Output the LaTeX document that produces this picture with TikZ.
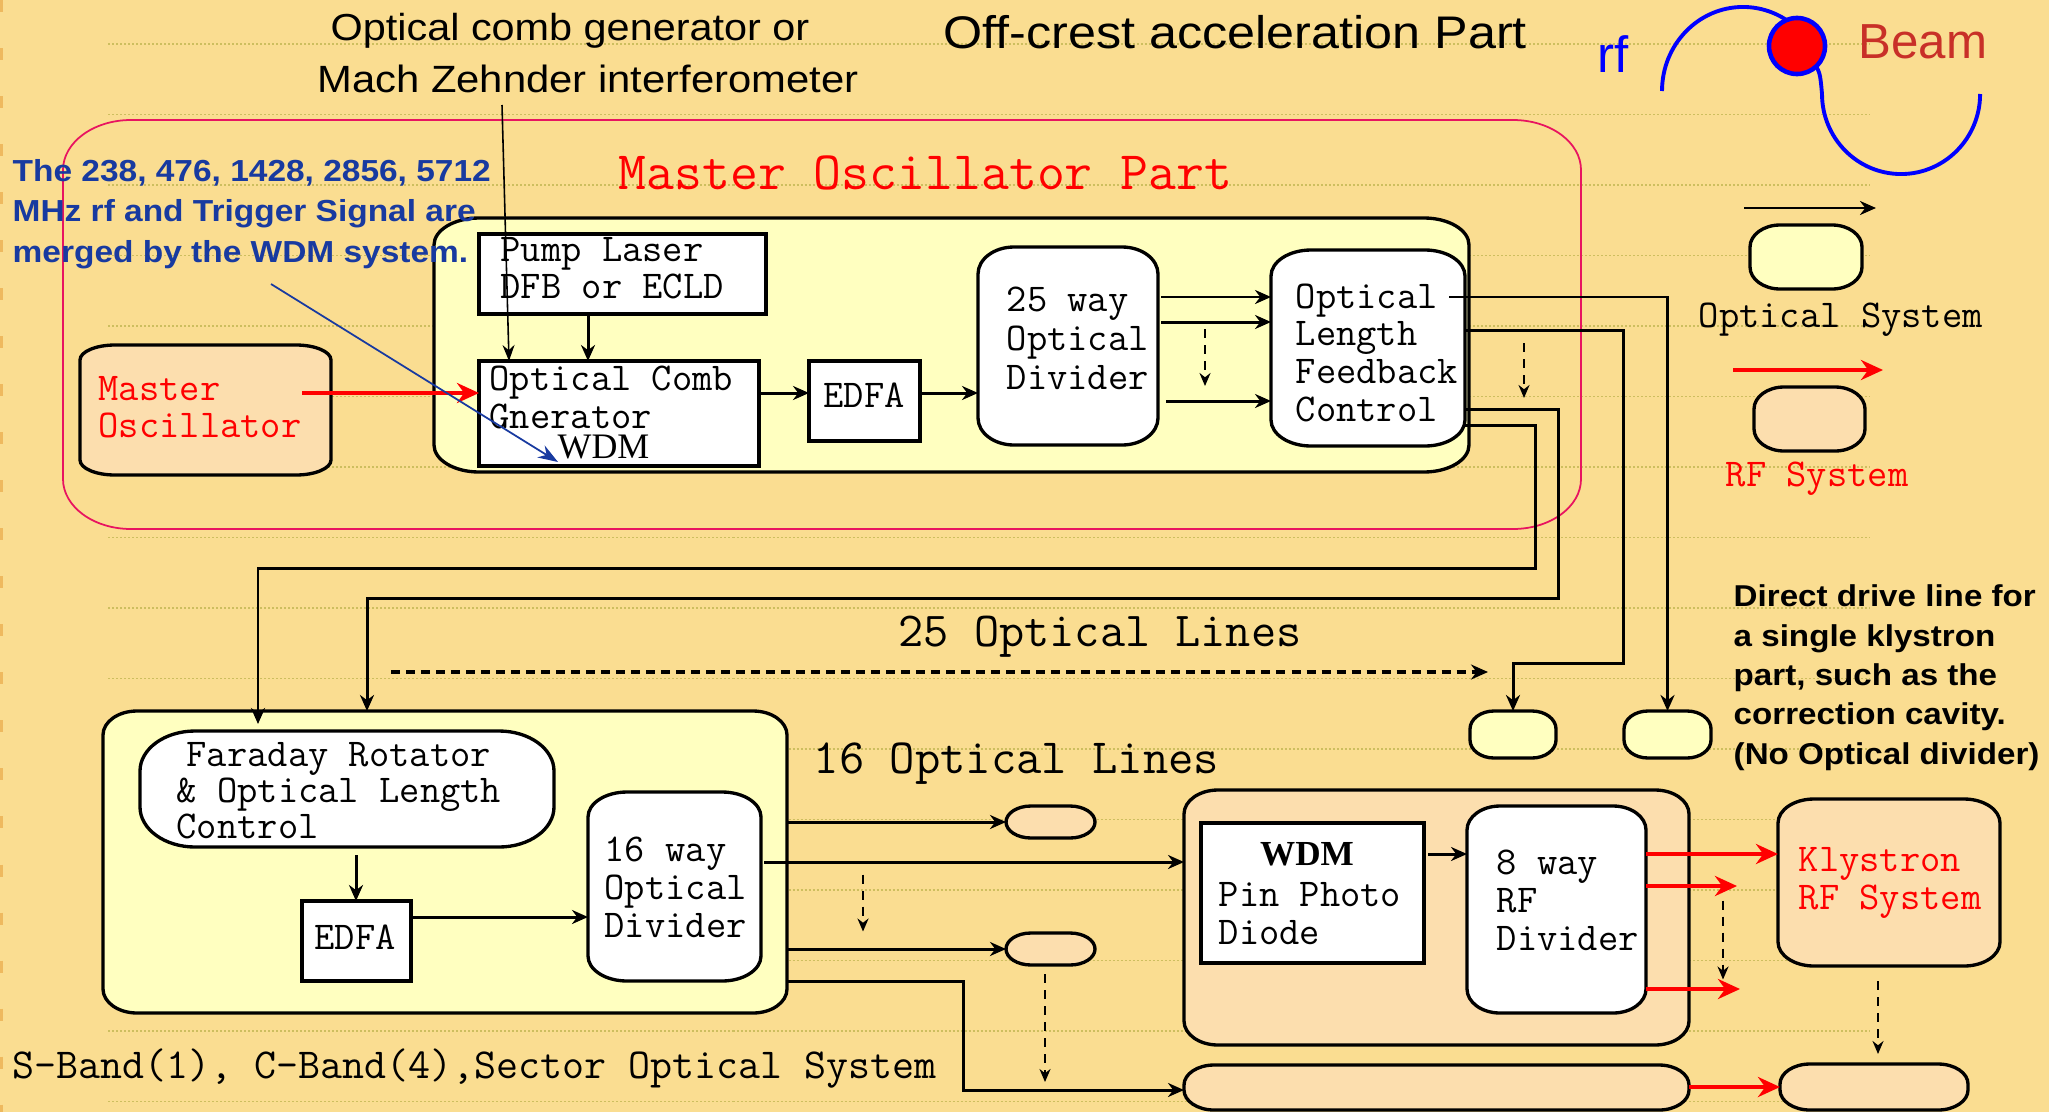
\documentclass[tikz,border=0pt]{standalone}
\usepackage{fontspec}
\newfontfamily\asans[FakeStretch=1.1]{Liberation Sans}
\newfontfamily\asansn{Liberation Sans}
\newfontfamily\tserif{Liberation Serif}
\usetikzlibrary{calc,fit,arrows.meta}
\pgfdeclarelayer{bg}
\pgfdeclarelayer{shp}
\pgfsetlayers{bg,shp,main}
\definecolor{bgc}{RGB}{250,221,145}
\definecolor{yel}{RGB}{255,255,192}
\definecolor{pch}{RGB}{252,222,174}
\definecolor{mopc}{RGB}{232,20,96}
\definecolor{dotc}{RGB}{205,190,95}
\definecolor{bluetxt}{RGB}{24,58,160}
\definecolor{beamc}{RGB}{200,48,40}
\definecolor{edgec}{RGB}{238,185,95}
\newcommand\myrbox[4]{%
  \path[#4] ($(#1.north west)+(#2,0)$) -- ($(#1.north east)+(-#2,0)$)
   arc[start angle=90,end angle=0,x radius={#2*0.01cm},y radius={#3*0.01cm}]
   -- ($(#1.south east)+(0,-#3)$)
   arc[start angle=0,end angle=-90,x radius={#2*0.01cm},y radius={#3*0.01cm}]
   -- ($(#1.south west)+(#2,0)$)
   arc[start angle=270,end angle=180,x radius={#2*0.01cm},y radius={#3*0.01cm}]
   -- ($(#1.north west)+(0,#3)$)
   arc[start angle=180,end angle=90,x radius={#2*0.01cm},y radius={#3*0.01cm}]
   -- cycle;}
\newcommand\myrect[2]{\path[#2] (#1.north west) rectangle (#1.south east);}
\begin{document}
\begin{tikzpicture}[x=0.01cm,y=-0.01cm,
  area/.style={inner sep=0pt,outer sep=0pt,draw=none,fit={#1}},
  bx/.style={draw=black,line width=0.95pt},
  mt/.style={font=\ttfamily\fontsize{11.2}{10.8}\selectfont,anchor=base west,inner sep=0pt,align=left},
  conn/.style={line width=0.85pt,-{Stealth[length=0.16cm,width=0.14cm]}},
  rarr/.style={red,line width=1.1pt,-{Stealth[length=0.22cm,width=0.2cm]}},
  dsh/.style={line width=0.55pt,dash pattern=on 0.09cm off 0.07cm,-{Stealth[length=0.13cm,width=0.11cm]}},
  thinarr/.style={line width=0.45pt,-{Stealth[length=0.16cm,width=0.12cm]}}]
\useasboundingbox (0,0) rectangle (2049,1112);
\begin{pgfonlayer}{bg}
  \fill[bgc] (0,0) rectangle (2049,1112);
  \foreach \k in {0,...,15}
    \draw[dotc,line width=0.45pt,dash pattern=on 0.02cm off 0.02cm] (108,44+70.5*\k) -- (1870,44+70.5*\k);
  \draw[edgec,line width=1.2pt,dash pattern=on 0.12cm off 0.36cm] (1,0) -- (1,1112);
\end{pgfonlayer}

% ---------- node areas ----------
\node[area={(63,120) (1581,529)}] (mop) {};
\node[area={(434,218) (1469,472)}] (optu) {};
\node[area={(479,234) (766,314)}] (pump) {};
\node[area={(479,361) (759,466)}] (ocg) {};
\node[area={(809,361) (920,441)}] (edfa1) {};
\node[area={(978,247) (1158,445)}] (div25) {};
\node[area={(1271,250) (1465,446)}] (olfc) {};
\node[area={(80,345) (331,475)}] (mo) {};
\node[area={(1750,225) (1862,289)}] (legy) {};
\node[area={(1754,387) (1865,451)}] (legp) {};
\node[area={(1470,711) (1556,758)}] (smA) {};
\node[area={(1624,711) (1711,758)}] (smB) {};
\node[area={(103,711) (787,1013)}] (sect) {};
\node[area={(140,731) (554,847)}] (fara) {};
\node[area={(302,901) (411,981)}] (edfa2) {};
\node[area={(588,792) (761,981)}] (div16) {};
\node[area={(1006,806) (1095,838)}] (pk1) {};
\node[area={(1006,933) (1095,965)}] (pk2) {};
\node[area={(1184,790) (1689,1045)}] (pinc) {};
\node[area={(1201,823) (1424,963)}] (wdm) {};
\node[area={(1467,806) (1646,1013)}] (div8) {};
\node[area={(1778,799) (2000,966)}] (kly) {};
\node[area={(1184,1065) (1689,1110)}] (bar) {};
\node[area={(1780,1064) (1968,1110)}] (brb) {};

\begin{pgfonlayer}{shp}
  \myrbox{mop}{68}{50}{draw=mopc,line width=0.5pt}
  \myrbox{optu}{45}{27}{bx,fill=yel}
  \myrect{pump}{bx,fill=white}
  \myrect{ocg}{bx,fill=white}
  \myrect{edfa1}{bx,fill=white}
  \myrbox{div25}{36}{27}{bx,fill=white}
  \myrbox{olfc}{40}{26}{bx,fill=white}
  \myrbox{mo}{35}{15}{bx,fill=pch}
  \myrbox{legy}{30}{22}{bx,fill=yel}
  \myrbox{legp}{30}{22}{bx,fill=pch}
  \myrbox{smA}{24}{18}{bx,fill=yel}
  \myrbox{smB}{24}{18}{bx,fill=yel}
  \myrbox{sect}{34}{24}{bx,fill=yel}
  \myrbox{fara}{55}{40}{bx,fill=white}
  \myrect{edfa2}{bx,fill=white}
  \myrbox{div16}{39}{25}{bx,fill=white}
  \myrbox{pk1}{25}{16}{bx,fill=pch}
  \myrbox{pk2}{25}{16}{bx,fill=pch}
  \myrbox{pinc}{34}{24}{bx,fill=pch}
  \myrect{wdm}{bx,fill=white}
  \myrbox{div8}{33}{24}{bx,fill=white}
  \myrbox{kly}{36}{24}{bx,fill=pch}
  \myrbox{bar}{30}{20}{bx,fill=pch}
  \myrbox{brb}{30}{20}{bx,fill=pch}
\end{pgfonlayer}

% ---------- texts (multi-line nodes: anchor at the last line's baseline) ----------
\node[anchor=base,inner sep=0pt,font=\asans\fontsize{10.7}{12}\selectfont] (an1) at (570,40) {Optical comb generator or};
\node[anchor=base,inner sep=0pt,font=\asans\fontsize{10.8}{12}\selectfont] (an2) at (588,92) {Mach Zehnder interferometer};
\node[anchor=base west,inner sep=0pt,font=\asans\fontsize{13}{15}\selectfont] (title) at (943,48) {Off-crest acceleration Part};
\node[anchor=base west,inner sep=0pt,font=\asansn\fontsize{14.5}{16}\selectfont,text=blue] (rfT) at (1597,72) {rf};
\node[anchor=base west,inner sep=0pt,font=\asansn\fontsize{14}{16}\selectfont,text=beamc] (beamT) at (1858,58) {Beam};
\node[anchor=base west,inner sep=0pt,align=left,font=\asans\bfseries\fontsize{8.65}{11.38}\selectfont,text=bluetxt] (blueT) at (12,262)
  {The 238, 476, 1428, 2856, 5712\\MHz rf and Trigger Signal are\\merged by the WDM system.};
\node[anchor=base west,inner sep=0pt,align=left,font=\asans\bfseries\fontsize{8.57}{11.17}\selectfont] (directT) at (1733,764)
  {Direct drive line for\\a single klystron\\part, such as the\\correction cavity.\\(No Optical divider)};

\node[mt,font=\ttfamily\fontsize{15.4}{16}\selectfont,text=red] (mopT) at (618,189) {Master Oscillator Part};
\node[mt,font=\ttfamily\fontsize{11.2}{9.1}\selectfont] (pumpT) at (500,298) {Pump Laser\\DFB or ECLD};
\node[mt] (ocgT) at (489,428) {Optical Comb\\Gnerator};
\node[anchor=base west,inner sep=0pt,font=\tserif\fontsize{10.2}{12}\selectfont] (ocgW) at (557,458) {WDM};
\node[mt,text=red,font=\ttfamily\fontsize{11.2}{10.5}\selectfont] (moT) at (98,437) {Master\\Oscillator};
\node[mt,anchor=base] (edfa1T) at (864,407) {EDFA};
\node[mt,font=\ttfamily\fontsize{11.2}{10.95}\selectfont] (div25T) at (1006,389) {25 way\\Optical\\Divider};
\node[mt,font=\ttfamily\fontsize{11.2}{10.7}\selectfont] (olfcT) at (1295,421) {Optical\\Length\\Feedback\\Control};
\node[mt] (legyT) at (1698,327) {Optical System};
\node[mt,text=red] (legpT) at (1725,486) {RF System};
\node[mt,font=\ttfamily\fontsize{11.2}{10.2}\selectfont] (faraT) at (176,838) {\hspace*{0.1cm}Faraday Rotator\\\& Optical Length\\Control};
\node[mt,anchor=base] (edfa2T) at (355,949) {EDFA};
\node[mt] (div16T) at (604,937) {16 way\\Optical\\Divider};
\node[mt,font=\ttfamily\fontsize{13.9}{16}\selectfont] (l25T) at (898,646) {25 Optical Lines};
\node[mt,font=\ttfamily\fontsize{14}{16}\selectfont] (l16T) at (813,773) {16 Optical Lines};
\node[mt,font=\ttfamily\fontsize{12.15}{14}\selectfont] (sbandT) at (12,1078) {S-Band(1), C-Band(4),Sector Optical System};
\node[anchor=base,inner sep=0pt,font=\tserif\bfseries\fontsize{10}{12}\selectfont] (wdmT) at (1307,865) {WDM};
\node[mt] (pinT) at (1218,944) {Pin Photo\\Diode};
\node[mt] (div8T) at (1496,950) {8 way\\RF\\Divider};
\node[mt,text=red] (klyT) at (1798,909) {Klystron\\RF System};

% ---------- beam symbol ----------
\draw[blue,line width=1.1pt] (1662,91) arc[start angle=180,end angle=48,x radius=0.81cm,y radius=0.84cm];
\draw[blue,line width=1.1pt] (1812,60) .. controls (1820,72) .. (1822,94)
   arc[start angle=180,end angle=360,x radius=0.79cm,y radius=0.80cm];
\node[circle,fill=red,draw=blue,line width=1.3pt,minimum size=0.56cm,inner sep=0pt] (beamdot) at (1797,46) {};

% ---------- helper coordinates ----------
\foreach \yy in {297,322,330,393,401,409,425,822,854,862,886,917,949,981,989,1087}
  \coordinate (c\yy) at (0,\yy);
\coordinate (a1) at (502,105);
\coordinate (b1) at (271,284);
\coordinate (mos) at (302,393);
\coordinate (k2) at (1623,663);
\coordinate (k3) at (1558,598);
\coordinate (k4) at (1535,568);
\coordinate (k5) at (963,1090);

% ---------- connectors ----------
\draw[thinarr] (a1) -- ($(ocg.north west)+(30,0)$);
\draw[conn] ($(pump.south west)+(109,0)$) -- ($(ocg.north west)+(109,0)$);
\draw[rarr] (mos) -- (mos -| ocg.west);
\draw[bluetxt,line width=0.5pt,-{Stealth[length=0.2cm,width=0.14cm]}] (b1) -- ($(ocg.south west)+(79,-4)$);
\draw[conn] (ocg.east |- c393) -- (edfa1.west |- c393);
\draw[conn] (edfa1.east |- c393) -- (div25.west |- c393);
\draw[conn] ($(div25.east |- c297)+(3,0)$) -- (olfc.west |- c297);
\draw[conn] ($(div25.east |- c322)+(3,0)$) -- (olfc.west |- c322);
\draw[conn] ($(div25.east |- c401)+(8,0)$) -- (olfc.west |- c401);
\draw[dsh] ($(div25.east)+(47,-17)$) -- ($(div25.east)+(47,40)$);
% olfc outputs
\draw[conn] ($(olfc.east |- c297)+(-16,0)$) -| (smB.north);
\draw[conn] (olfc.east |- c330) -| (k2) -| (smA.north);
\draw[conn] (olfc.east |- c409) -| (k3) -| ($(sect.north west)+(264,0)$);
\draw[conn] (olfc.east |- c425) -| (k4) -| ($(fara.north west)+(118,-7)$);
\draw[dsh] ($(olfc.east)+(59,-5)$) -- ($(olfc.east)+(59,50)$);
% 25 optical lines
\draw[line width=0.9pt,dash pattern=on 0.09cm off 0.06cm,-{Stealth[length=0.17cm,width=0.15cm]}] ($(sect.north west)+(288,-39)$) -- ($(smA.north west)+(18,-39)$);
% sector part
\draw[conn] ($(fara.south west)+(216,8)$) -- ($(edfa2.north west)+(54,0)$);
\draw[conn] (edfa2.east |- c917) -- (div16.west |- c917);
\draw[conn] (sect.east |- c822) -- (pk1.west |- c822);
\draw[conn] ($(div16.east |- c862)+(3,0)$) -- (pinc.west |- c862);
\draw[dsh] ($(div16.east)+(102,-12)$) -- ($(div16.east)+(102,45)$);
\draw[conn] (sect.east |- c949) -- (pk2.west |- c949);
\draw[conn] (sect.east |- c981) -| (k5) -- (bar.west |- k5);
\draw[dsh] ($(pk2.south west)+(39,9)$) -- ($(pk2.south west)+(39,117)$);
% pin / rf
\draw[conn] ($(wdm.east |- c854)+(4,0)$) -- (div8.west |- c854);
\draw[rarr] (div8.east |- c854) -- (kly.west |- c854);
\draw[rarr] (div8.east |- c886) -- ($(div8.east |- c886)+(91,0)$);
\draw[rarr] (div8.east |- c989) -- ($(div8.east |- c989)+(94,0)$);
\draw[dsh] ($(div8.east)+(77,-9)$) -- ($(div8.east)+(77,70)$);
\draw[dsh] ($(kly.south)+(-11,15)$) -- ($(brb.north)+(4,-10)$);
\draw[rarr] (bar.east |- c1087) -- (brb.west |- c1087);
% legend
\coordinate (lg1) at (1744,208);
\coordinate (lg2) at (1876,208);
\coordinate (lg3) at (1733,370);
\coordinate (lg4) at (1883,370);
\draw[conn] (lg1) -- (lg2);
\draw[rarr] (lg3) -- (lg4);
\end{tikzpicture}
\end{document}
